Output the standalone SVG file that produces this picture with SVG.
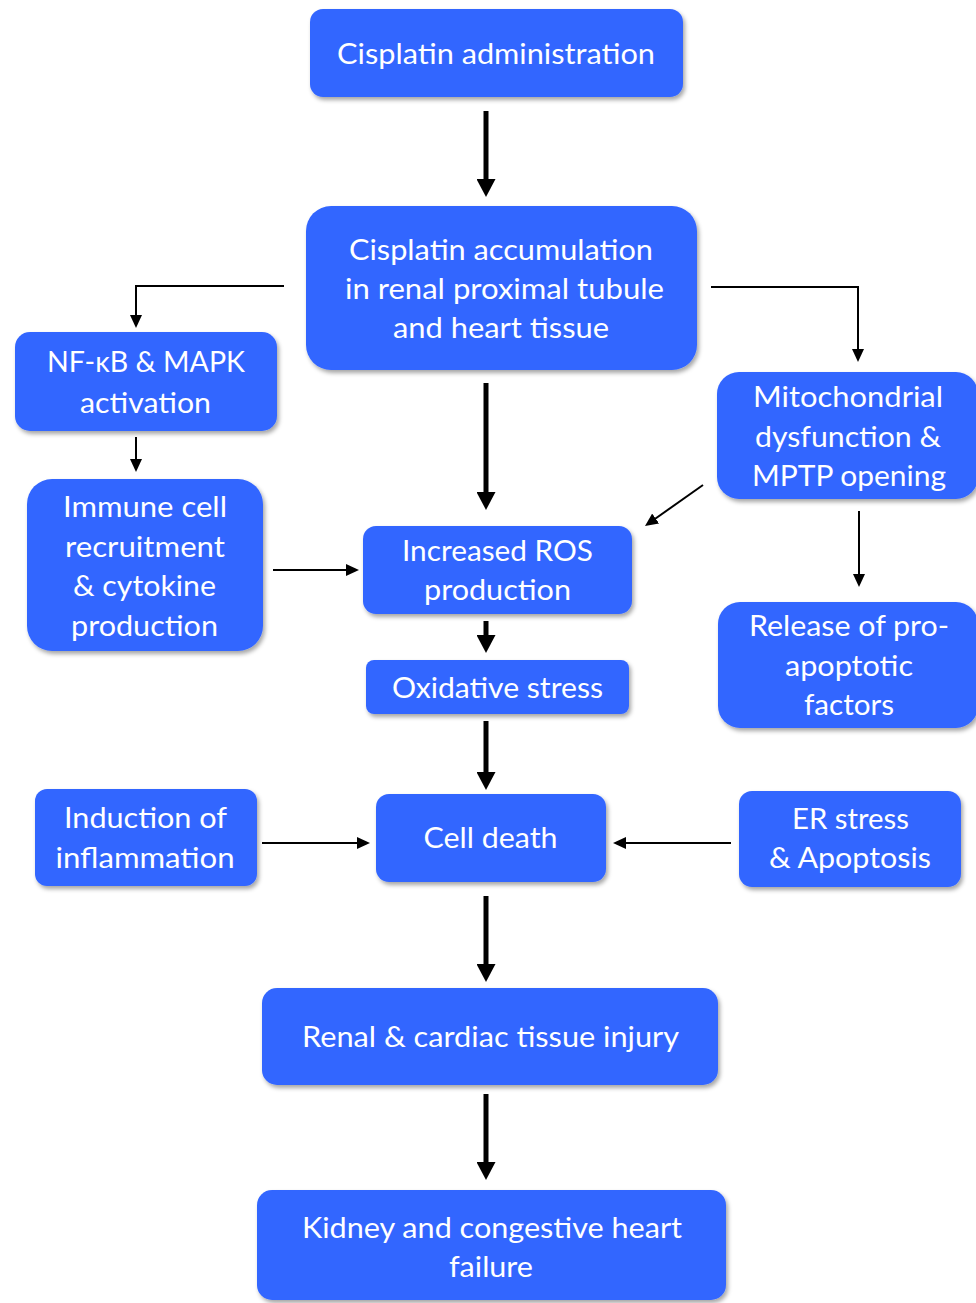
<svg xmlns="http://www.w3.org/2000/svg" width="976" height="1303" viewBox="0 0 976 1303">
<defs>
<style>
.box{fill:#3366FF;filter:url(#sh);}
.t{font-family:Lato,"Open Sans","Liberation Sans",sans-serif;font-size:29px;fill:#FFFFFF;text-anchor:middle;}
.thick{stroke:#000;stroke-width:5;fill:none;marker-end:url(#hk);}
.thin{stroke:#000;stroke-width:2;fill:none;marker-end:url(#hn);}
</style>
<filter id="sh" x="-10%" y="-10%" width="125%" height="130%">
<feDropShadow dx="2" dy="3" stdDeviation="2" flood-color="#000" flood-opacity="0.35"/>
</filter>
<marker id="hk" viewBox="0 0 18 19" refX="8" refY="9.5" markerWidth="18" markerHeight="19" markerUnits="userSpaceOnUse" orient="auto">
<path d="M0,0 L18,9.5 L0,19 Z" fill="#000"/>
</marker>
<marker id="hn" viewBox="0 0 13 12" refX="7" refY="6" markerWidth="13" markerHeight="12" markerUnits="userSpaceOnUse" orient="auto">
<path d="M0,0 L13,6 L0,12 Z" fill="#000"/>
</marker>
</defs>
<rect width="976" height="1303" fill="#FFFFFF"/>

<g id="connectors">
<path class="thick" d="M486,111 V187"/>
<path class="thick" d="M486,383 V500"/>
<path class="thick" d="M486,621 V643"/>
<path class="thick" d="M486,721 V780"/>
<path class="thick" d="M486,896 V972"/>
<path class="thick" d="M486,1094 V1170"/>
<path class="thin" d="M284,286 H136 V322"/>
<path class="thin" d="M136,437 V466"/>
<path class="thin" d="M711,287 H858 V356"/>
<path class="thin" d="M703,485 L649.9,522.5"/>
<path class="thin" d="M859,511 V581"/>
<path class="thin" d="M273,570 H353"/>
<path class="thin" d="M262,843 H364"/>
<path class="thin" d="M731,843 H619"/>
</g>

<g id="n-admin">
<rect class="box" x="310" y="9" width="373" height="88" rx="13"/>
<text class="t" x="496" y="64" textLength="318" lengthAdjust="spacingAndGlyphs">Cisplatin administration</text>
</g>

<g id="n-accum">
<rect class="box" x="306" y="206" width="391" height="164" rx="25"/>
<text class="t" x="501" y="260" textLength="304" lengthAdjust="spacingAndGlyphs">Cisplatin accumulation</text>
<text class="t" x="504.5" y="299" textLength="319" lengthAdjust="spacingAndGlyphs">in renal proximal tubule</text>
<text class="t" x="501" y="338" textLength="216" lengthAdjust="spacingAndGlyphs">and heart tissue</text>
</g>

<g id="n-nfkb">
<rect class="box" x="15" y="332" width="262" height="99" rx="15"/>
<text class="t" x="146" y="372" textLength="198" lengthAdjust="spacingAndGlyphs">NF-κB &amp; MAPK</text>
<text class="t" x="145.5" y="413" textLength="131" lengthAdjust="spacingAndGlyphs">activation</text>
</g>

<g id="n-immune">
<rect class="box" x="27" y="479" width="236" height="172" rx="25"/>
<text class="t" x="145" y="517" textLength="164" lengthAdjust="spacingAndGlyphs">Immune cell</text>
<text class="t" x="145" y="557" textLength="160" lengthAdjust="spacingAndGlyphs">recruitment</text>
<text class="t" x="144.5" y="596" textLength="143" lengthAdjust="spacingAndGlyphs">&amp; cytokine</text>
<text class="t" x="144.5" y="636" textLength="147" lengthAdjust="spacingAndGlyphs">production</text>
</g>

<g id="n-ros">
<rect class="box" x="363" y="526" width="269" height="88" rx="13"/>
<text class="t" x="497.5" y="561" textLength="191" lengthAdjust="spacingAndGlyphs">Increased ROS</text>
<text class="t" x="497.5" y="600" textLength="147" lengthAdjust="spacingAndGlyphs">production</text>
</g>

<g id="n-oxid">
<rect class="box" x="366" y="660" width="263" height="54" rx="8"/>
<text class="t" x="497.5" y="698" textLength="211" lengthAdjust="spacingAndGlyphs">Oxidative stress</text>
</g>

<g id="n-mito">
<rect class="box" x="717" y="372" width="261" height="127" rx="22"/>
<text class="t" x="848" y="407" textLength="190" lengthAdjust="spacingAndGlyphs">Mitochondrial</text>
<text class="t" x="848" y="447" textLength="186" lengthAdjust="spacingAndGlyphs">dysfunction &amp;</text>
<text class="t" x="849" y="486" textLength="194" lengthAdjust="spacingAndGlyphs">MPTP opening</text>
</g>

<g id="n-release">
<rect class="box" x="718" y="602" width="260" height="126" rx="22"/>
<text class="t" x="849" y="636" textLength="200" lengthAdjust="spacingAndGlyphs">Release of pro-</text>
<text class="t" x="849" y="676" textLength="128" lengthAdjust="spacingAndGlyphs">apoptotic</text>
<text class="t" x="849" y="715" textLength="90" lengthAdjust="spacingAndGlyphs">factors</text>
</g>

<g id="n-induction">
<rect class="box" x="35" y="789" width="222" height="97" rx="12"/>
<text class="t" x="145.5" y="828" textLength="163" lengthAdjust="spacingAndGlyphs">Induction of</text>
<text class="t" x="145" y="868" textLength="179" lengthAdjust="spacingAndGlyphs">inflammation</text>
</g>

<g id="n-celldeath">
<rect class="box" x="376" y="794" width="230" height="88" rx="13"/>
<text class="t" x="490.5" y="848" textLength="134" lengthAdjust="spacingAndGlyphs">Cell death</text>
</g>

<g id="n-er">
<rect class="box" x="739" y="791" width="222" height="96" rx="13"/>
<text class="t" x="850.5" y="829" textLength="117" lengthAdjust="spacingAndGlyphs">ER stress</text>
<text class="t" x="850" y="868" textLength="162" lengthAdjust="spacingAndGlyphs">&amp; Apoptosis</text>
</g>

<g id="n-renal">
<rect class="box" x="262" y="988" width="456" height="97" rx="15"/>
<text class="t" x="490.5" y="1047" textLength="377" lengthAdjust="spacingAndGlyphs">Renal &amp; cardiac tissue injury</text>
</g>

<g id="n-kidney">
<rect class="box" x="257" y="1190" width="469" height="110" rx="15"/>
<text class="t" x="492" y="1238" textLength="380" lengthAdjust="spacingAndGlyphs">Kidney and congestive heart</text>
<text class="t" x="491" y="1277" textLength="84" lengthAdjust="spacingAndGlyphs">failure</text>
</g>
</svg>
